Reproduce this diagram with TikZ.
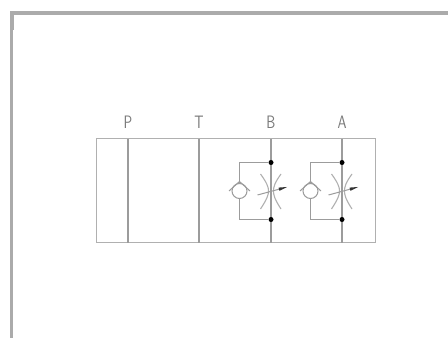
\documentclass[tikz,border=0pt]{standalone}
\usetikzlibrary{arrows.meta}
\newcommand{\pagewidth}{448pt}
\newcommand{\pageheight}{338pt}
\definecolor{framegray}{HTML}{ABABAB}
\definecolor{boxgray}{HTML}{B0B0B0}
\definecolor{portgray}{HTML}{9C9C9C}
\definecolor{labelgray}{HTML}{7A7A7A}
\definecolor{tipgray}{HTML}{333333}
\tikzset{
  boxline/.style={draw=boxgray, line width=1pt},
  portline/.style={draw=portgray, line width=1.3pt},
  thinline/.style={draw=portgray, line width=1pt},
  curveline/.style={draw=boxgray, line width=1.1pt},
  portlabel/.style={anchor=center, inner sep=0pt, text=labelgray, xscale=0.8, font=\sffamily\fontsize{18}{20}\selectfont},
  junction/.style={circle, fill=black, inner sep=0pt, minimum size=5pt},
  checkball/.style={circle, draw=portgray, line width=1pt, fill=white, inner sep=0pt, minimum size=15pt}
}
\begin{document}
\begin{tikzpicture}[x=1pt, y=1pt]
  \useasboundingbox (0,0) rectangle (\pagewidth, \pageheight);
  \fill[white] (0,0) rectangle (\pagewidth, \pageheight);

  % === FRAME ===
  \fill[framegray] (10,323) rectangle (448,327);
  \fill[framegray] (10,0) rectangle (13,327);
  \fill[framegray] (10,308) rectangle (14,327);

  % === VALVE BODY ===
  \coordinate (boxsw) at (96,95);
  \coordinate (boxne) at (375,199);
  \draw[boxline] (boxsw) rectangle (boxne);

  % === PORTS ===
  \node[portlabel] (labelP) at (128,215.5) {P};
  \node[portlabel] (labelT) at (199,215.5) {T};
  \node[portlabel] (labelB) at (271,215.5) {B};
  \node[portlabel] (labelA) at (342,215.5) {A};

  \coordinate (topP) at (128,199);
  \coordinate (botP) at (128,95);
  \coordinate (topT) at (199,199);
  \coordinate (botT) at (199,95);
  \coordinate (topB) at (271,199);
  \coordinate (botB) at (271,95);
  \coordinate (topA) at (342,199);
  \coordinate (botA) at (342,95);
  \draw[portline] (topP) -- (botP);
  \draw[portline] (topT) -- (botT);
  \draw[portline] (topB) -- (botB);
  \draw[portline] (topA) -- (botA);

  % === CHECK VALVE AND THROTTLE, LINE B ===
  \begin{scope}[shift={(271,147)}]
    \node[junction] (upB) at (0,28.5) {};
    \node[junction] (downB) at (0,-28.5) {};
    \node[checkball] (ballB) at (-31.5,0) {};
    \coordinate (cornerupB) at (-31.5,28.5);
    \coordinate (cornerdownB) at (-31.5,-28.5);
    \draw[thinline] (upB) -- (cornerupB) -- (ballB.north);
    \draw[thinline] (downB) -- (cornerdownB) -- (ballB.south);
    \draw[thinline] (-42,0) -- (-31.5,9.5) -- (-21,0);
    \draw[curveline] (-10.5,17) .. controls (-4,8) and (-2.5,4) .. (-2.5,0) .. controls (-2.5,-4) and (-4,-8) .. (-10.5,-18);
    \draw[curveline] (10,17) .. controls (3.5,8) and (2.5,4) .. (2.5,0) .. controls (2.5,-4) and (3.5,-8) .. (10,-18);
    \draw[thinline] (-13.5,-4) -- (8,1.8);
    \fill[tipgray] (16,4) -- (7.5,3.4) -- (8.5,0.2) -- cycle;
  \end{scope}

  % === CHECK VALVE AND THROTTLE, LINE A ===
  \begin{scope}[shift={(342,147)}]
    \node[junction] (upA) at (0,28.5) {};
    \node[junction] (downA) at (0,-28.5) {};
    \node[checkball] (ballA) at (-31.5,0) {};
    \coordinate (cornerupA) at (-31.5,28.5);
    \coordinate (cornerdownA) at (-31.5,-28.5);
    \draw[thinline] (upA) -- (cornerupA) -- (ballA.north);
    \draw[thinline] (downA) -- (cornerdownA) -- (ballA.south);
    \draw[thinline] (-42,0) -- (-31.5,9.5) -- (-21,0);
    \draw[curveline] (-10.5,17) .. controls (-4,8) and (-2.5,4) .. (-2.5,0) .. controls (-2.5,-4) and (-4,-8) .. (-10.5,-18);
    \draw[curveline] (10,17) .. controls (3.5,8) and (2.5,4) .. (2.5,0) .. controls (2.5,-4) and (3.5,-8) .. (10,-18);
    \draw[thinline] (-13.5,-4) -- (8,1.8);
    \fill[tipgray] (16,4) -- (7.5,3.4) -- (8.5,0.2) -- cycle;
  \end{scope}
\end{tikzpicture}
\end{document}
